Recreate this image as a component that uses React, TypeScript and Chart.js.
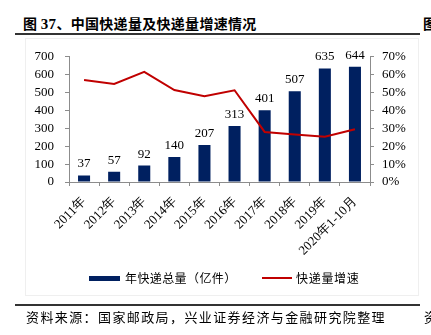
import React, { useEffect, useRef } from "react";
import { Chart, registerables } from "chart.js";

Chart.register(...registerables);

const categories = [
  "2011年",
  "2012年",
  "2013年",
  "2014年",
  "2015年",
  "2016年",
  "2017年",
  "2018年",
  "2019年",
  "2020年1-10月",
];
const volumes = [37, 57, 92, 140, 207, 313, 401, 507, 635, 644];
const growth = [57.0, 54.8, 61.6, 51.4, 48.0, 51.3, 28.0, 26.6, 25.3, 29.5];
const leftAxis = { min: 0, max: 700, step: 100 };
const rightAxis = { min: 0, max: 70, step: 10 };

const BAR = "#002060";
const LINE = "#C00000";
const AXIS = "#8c8c8c";
const SERIF = "'Liberation Serif', 'Times New Roman', serif";
const CJK = "'Noto Sans CJK SC', sans-serif";

const barLabels = {
  id: "barLabels",
  afterDatasetsDraw(chart: any) {
    const ctx = chart.ctx;
    const meta = chart.getDatasetMeta(0);
    ctx.save();
    ctx.font = `13px ${SERIF}`;
    ctx.fillStyle = "#000";
    ctx.textAlign = "center";
    ctx.textBaseline = "alphabetic";
    meta.data.forEach((bar: any, i: number) => {
      ctx.fillText(String(volumes[i]), bar.x, bar.y - 8);
    });
    ctx.restore();
  },
};

export default function App() {
  const canvasRef = useRef<HTMLCanvasElement | null>(null);

  useEffect(() => {
    const canvas = canvasRef.current;
    if (!canvas) return;
    const chart = new Chart(canvas, {
      data: {
        labels: categories,
        datasets: [
          {
            type: "bar",
            label: "年快递总量（亿件）",
            data: volumes,
            backgroundColor: BAR,
            yAxisID: "y",
            categoryPercentage: 1,
            barPercentage: 0.4,
            order: 1,
          },
          {
            type: "line",
            label: "快递量增速",
            data: growth,
            borderColor: LINE,
            backgroundColor: LINE,
            borderWidth: 2,
            pointRadius: 0,
            tension: 0,
            yAxisID: "y1",
            order: 0,
          },
        ],
      } as any,
      options: {
        responsive: false,
        animation: false,
        devicePixelRatio: 1,
        layout: { padding: { top: 16, left: 0, right: 0, bottom: 0 } },
        plugins: {
          legend: { display: false },
          tooltip: { enabled: false },
        },
        scales: {
          x: {
            offset: true,
            grid: {
              offset: true,
              drawOnChartArea: false,
              drawTicks: true,
              tickLength: 4,
              color: AXIS,
            },
            border: { display: true, color: AXIS },
            ticks: {
              minRotation: 45,
              maxRotation: 45,
              autoSkip: false,
              padding: 8,
              color: "#000",
              font: { family: SERIF, size: 13 },
            },
            afterFit(scale: any) {
              scale.height = 98;
            },
          },
          y: {
            position: "left",
            min: leftAxis.min,
            max: leftAxis.max,
            grid: {
              drawOnChartArea: false,
              drawTicks: true,
              tickLength: 4,
              color: AXIS,
            },
            border: { display: true, color: AXIS },
            ticks: {
              stepSize: leftAxis.step,
              autoSkip: false,
              padding: 11,
              color: "#000",
              font: { family: SERIF, size: 13 },
            },
            afterFit(scale: any) {
              scale.width = 69;
            },
          },
          y1: {
            position: "right",
            min: rightAxis.min,
            max: rightAxis.max,
            grid: {
              drawOnChartArea: false,
              drawTicks: true,
              tickLength: 4,
              color: AXIS,
            },
            border: { display: true, color: AXIS },
            ticks: {
              stepSize: rightAxis.step,
              autoSkip: false,
              padding: 8,
              color: "#000",
              font: { family: SERIF, size: 13 },
              callback: (v: any) => `${v}%`,
            },
            afterFit(scale: any) {
              scale.width = 61;
            },
          },
        },
      } as any,
      plugins: [barLabels],
    });
    return () => chart.destroy();
  }, []);

  const abs = (s: React.CSSProperties): React.CSSProperties => ({
    position: "absolute",
    whiteSpace: "nowrap",
    ...s,
  });

  return (
    <div
      style={{
        position: "fixed",
        left: 0,
        top: 0,
        width: 431,
        height: 335,
        background: "#fff",
        overflow: "hidden",
        fontFamily: CJK,
        color: "#000",
      }}
    >
      <div
        style={abs({
          left: 23,
          top: 13,
          lineHeight: "20px",
          fontSize: 14,
          fontWeight: "bold",
          letterSpacing: 0.3,
        })}
      >
        图 <span style={{ fontFamily: SERIF, fontSize: 15 }}>37</span>、中国快递量及快递量增速情况
      </div>
      <div style={abs({ left: 423, top: 13, lineHeight: "20px", fontSize: 14, fontWeight: "bold" })}>图</div>
      <div style={abs({ left: 15, top: 33, width: 405, height: 1.5, background: "#333" })} />

      <div
        style={abs({
          left: 25,
          top: 38,
          width: 394,
          height: 258,
          border: "1px solid #efefef",
          boxSizing: "border-box",
        })}
      />

      <div style={abs({ left: 0, top: 38, width: 431, height: 242 })}>
        <canvas ref={canvasRef} width={431} height={242} style={{ display: "block" }} />
      </div>

      <div style={abs({ left: 89, top: 276, width: 31, height: 4.5, background: BAR })} />
      <div style={abs({ left: 125, top: 270, lineHeight: "16px", fontSize: 12, letterSpacing: 0.4 })}>
        年快递总量（亿件）
      </div>
      <div style={abs({ left: 262, top: 277, width: 30, height: 2, background: LINE })} />
      <div style={abs({ left: 296, top: 270, lineHeight: "16px", fontSize: 12, letterSpacing: 0.7 })}>
        快递量增速
      </div>

      <div style={abs({ left: 15, top: 304, width: 405, height: 1.5, background: "#333" })} />
      <div style={abs({ left: 26, top: 308, lineHeight: "18px", fontSize: 13, letterSpacing: 1.4 })}>
        资料来源：国家邮政局，兴业证券经济与金融研究院整理
      </div>
      <div style={abs({ left: 424, top: 308, lineHeight: "18px", fontSize: 13 })}>资</div>
    </div>
  );
}
